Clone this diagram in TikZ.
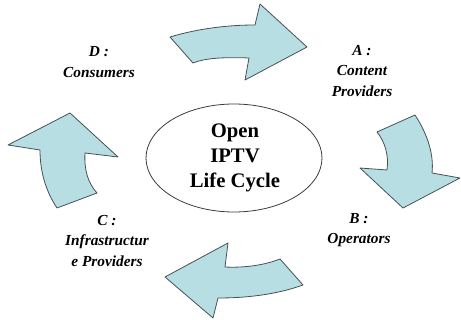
\documentclass[tikz,border=0pt]{standalone}
\usepackage{fontspec}
\setmainfont{Liberation Serif}

\tikzset{every picture/.style={line width=0.75pt}}
\tikzset{
  cyclearrow/.style={draw={rgb,255:red,70;green,80;blue,85},fill={rgb,255:red,183;green,223;blue,227},line width=0.6pt,line join=round},
  stagelabel/.style={inner sep=0.75pt,align=center,font=\fontsize{11.5}{15.5}\selectfont\bfseries\itshape},
}

\begin{document}
\begin{tikzpicture}[x=0.75pt,y=0.75pt,yscale=-1,xscale=1]
\useasboundingbox (0,0) rectangle (461,320);

%Curved Arrow [id:top]
\draw [cyclearrow] (170,37) .. controls (200,28) and (230,25) .. (255,25) -- (260,4) -- (307,47) -- (245,80) -- (249,58) .. controls (225,57) and (205,58) .. (193,63) -- cycle ;
%Curved Arrow [id:right]
\draw [cyclearrow] (377,132) -- (415,115) .. controls (428,135) and (434,155) .. (432,173) -- (460,178) -- (403,208) -- (360,168) -- (387,170) .. controls (389,155) and (385,142) .. (377,132) -- cycle ;
%Curved Arrow [id:bottom]
\draw [cyclearrow] (280,259) -- (303,285) .. controls (275,295) and (245,298) .. (218,298) -- (213,318) -- (165,277) -- (228,243) -- (225,267) .. controls (245,268) and (265,265) .. (280,259) -- cycle ;
%Curved Arrow [id:left]
\draw [cyclearrow] (8,145) -- (70,113) -- (118,157) -- (85,153) .. controls (84,170) and (88,183) .. (97,193) -- (57,208) .. controls (45,190) and (40,170) .. (40,150) -- cycle ;

%Ellipse [id:centre]
\draw [color={rgb, 255:red, 60; green, 60; blue, 60 }, line width=0.6pt] (234,158) ellipse (88 and 54) ;

% Text Node
\node (lifecycle) [inner sep=0.75pt,align=center,font=\fontsize{15.5}{18.75}\selectfont\bfseries] at (235,158) {Open\\IPTV\\Life Cycle};
% Text Node
\node (consumers) [stagelabel] at (99,62) {D :\\Consumers};
% Text Node
\node (content) [stagelabel] at (362,71) {A :\\Content\\Providers};
% Text Node
\node (operators) [stagelabel] at (359,230) {B :\\Operators};
% Text Node
\node (infra) [stagelabel] at (107,241) {C :\\Infrastructur\\e Providers};

\end{tikzpicture}
\end{document}
